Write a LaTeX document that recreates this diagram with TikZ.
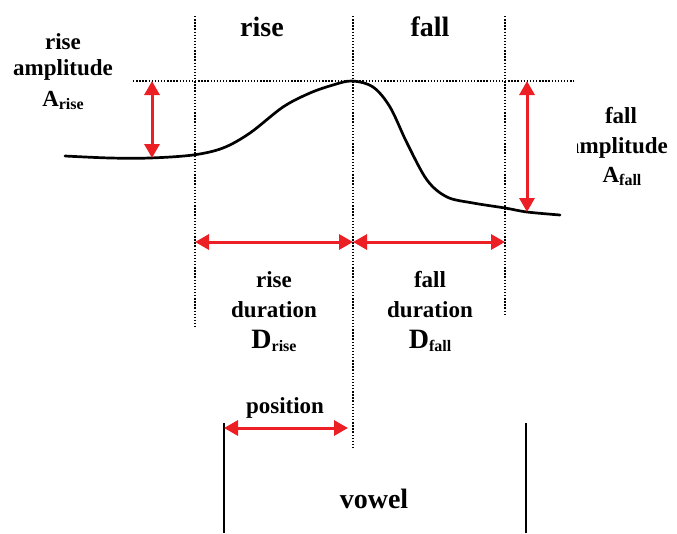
\documentclass[tikz,border=0pt]{standalone}
\usepackage{fontspec}
\setmainfont{Liberation Serif}
\usetikzlibrary{arrows.meta}
\definecolor{arrred}{RGB}{236,32,36}
\tikzset{
  guide/.style={line width=1.5pt, dash pattern=on 1.4pt off 1.7pt},
  dimarrow/.style={arrred, line width=3pt, {Triangle[length=14pt,width=15pt]}-{Triangle[length=14pt,width=15pt]}},
  contour/.style={line width=2.7pt, line cap=round},
  bar/.style={line width=2.2pt},
  biglbl/.style={font=\bfseries\fontsize{28}{28}\selectfont, inner sep=0pt, anchor=base},
  lbl/.style={font=\bfseries\fontsize{23}{23}\selectfont, inner sep=0pt, anchor=base},
}
\newcommand{\subtxt}[1]{\raisebox{-3pt}{\fontsize{16}{16}\selectfont #1}}
\begin{document}
\begin{tikzpicture}[x=1pt,y=-1pt]
\useasboundingbox (0,0) rectangle (677,533);
% guide lines
\coordinate (g1t) at (195,16); \coordinate (g1b) at (195,327);
\coordinate (g2t) at (353,16); \coordinate (g2b) at (353,447);
\coordinate (g3t) at (505,16); \coordinate (g3b) at (505,314);
\coordinate (hl) at (133,81); \coordinate (hr) at (574,81);
\draw[guide] (g1t) -- (g1b);
\draw[guide] (g2t) -- (g2b);
\draw[guide] (g3t) -- (g3b);
\draw[guide] (hl) -- (hr);
% contour
\draw[contour] plot[smooth, tension=0.55] coordinates {
 (65,156) (110,158) (150,158) (193,155) (223,148) (250,133) (283,107) (310,93) (333,85) (352,81)
 (373,87) (390,107) (407,143) (427,180) (447,197) (473,203) (505,208) (527,212) (560,215)};
% amplitude arrows
\coordinate (rat) at (152,81); \coordinate (rab) at (152,158);
\coordinate (fat) at (527,81); \coordinate (fab) at (527,212);
\draw[dimarrow] (rat) -- (rab);
\draw[dimarrow] (fat) -- (fab);
% duration arrows
\coordinate (d1) at (195,242); \coordinate (d2) at (353,242); \coordinate (d3) at (505,242);
\draw[dimarrow] (d1) -- (d2);
\draw[dimarrow] (d2) -- (d3);
% vowel
\coordinate (v1t) at (224,423); \coordinate (v1b) at (224,533);
\coordinate (v2t) at (526,423); \coordinate (v2b) at (526,533);
\draw[bar] (v1t) -- (v1b);
\draw[bar] (v2t) -- (v2b);
\coordinate (p1) at (224,428); \coordinate (p2) at (348,428);
\draw[dimarrow] (p1) -- (p2);
% labels
\node[biglbl] (trise) at (262,36) {rise};
\node[biglbl] (tfall) at (430,36) {fall};
\node[lbl] (ra1) at (63,49) {rise};
\node[lbl] (ra2) at (63,75) {amplitude};
\node[lbl] (ra3) at (63,106) {A\subtxt{rise}};
\begin{scope}
\clip (577,90) rectangle (677,200);
\node[lbl] (fa1) at (621,123) {fall};
\node[lbl] (fa2) at (618,153) {amplitude};
\node[lbl] (fa3) at (622,182) {A\subtxt{fall}};
\end{scope}
\node[lbl] (rd1) at (274,287) {rise};
\node[lbl] (rd2) at (274,317) {duration};
\node[biglbl] (rd3) at (274,348) {D\subtxt{rise}};
\node[lbl] (fd1) at (430,287) {fall};
\node[lbl] (fd2) at (430,317) {duration};
\node[biglbl] (fd3) at (430,348) {D\subtxt{fall}};
\node[lbl] (pos) at (285,413) {position};
\node[biglbl] (vow) at (374,508) {vowel};
\end{tikzpicture}
\end{document}
